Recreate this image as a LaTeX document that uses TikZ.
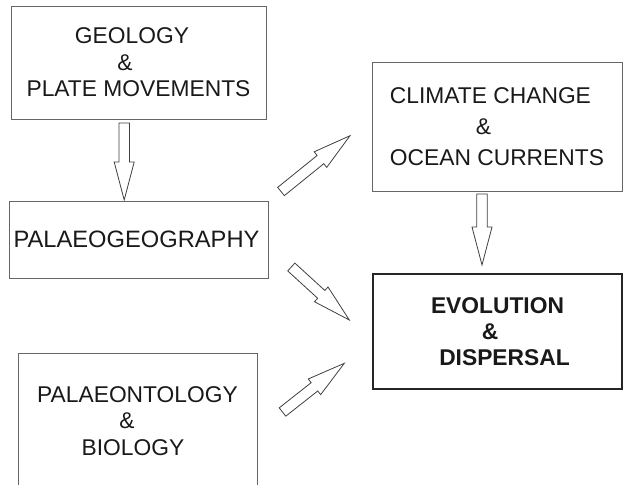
\documentclass[tikz,border=0pt]{standalone}
\usepackage{fontspec}
\setmainfont{Liberation Sans}
\usepackage{tikz}
\usetikzlibrary{calc,positioning}
\tikzstyle{box}      = [rectangle, draw=black!60, line width=0.9pt, inner sep=0pt, outer sep=0pt, align=center, text=black!90, font=\fontsize{22.8}{26.6}\selectfont]
\tikzstyle{mainbox}  = [box, draw=black!85, line width=2.4pt, font=\bfseries\fontsize{22.8}{25.7}\selectfont]
\tikzstyle{fatline}  = [draw=black!75, line width=0.8pt, fill=white, line join=miter]
\newcommand{\fatarrow}[2]{%
  \coordinate (head) at ($(#2)!38pt!(#1)$);
  \draw[fatline] ($(#1)!5.3pt!90:(#2)$) -- ($(head)!5.3pt!90:(#2)$) -- ($(head)!10pt!90:(#2)$) -- (#2)
    -- ($(head)!10pt!-90:(#2)$) -- ($(head)!5.3pt!-90:(#2)$) -- ($(#1)!5.3pt!-90:(#2)$) -- cycle;}

\begin{document}
\begin{tikzpicture}[x=1pt,y=-1pt]
        \clip (0,0) rectangle (623,484);

        \node[box, minimum width=255, minimum height=113] (geo) at (138.5,62.5)
            {\hspace*{-13pt}GEOLOGY\\ \hspace*{-27pt}\&\\ PLATE MOVEMENTS};
        \node[box, minimum width=259, minimum height=77, font=\fontsize{23.7}{26}\selectfont] (pal) at (138.5,239.5)
            {\hspace*{-4pt}PALAEOGEOGRAPHY};
        \node[box, minimum width=239, minimum height=136] (bio) at (137.5,421)
            {PALAEONTOLOGY\\ \hspace*{-21pt}\&\\ \hspace*{-9pt}BIOLOGY};
        \node[box, minimum width=250, minimum height=129, align=left, font=\fontsize{22.8}{30.8}\selectfont] (cli) at (497,126.5)
            {CLIMATE CHANGE\\ \hspace*{86pt}\&\\ OCEAN CURRENTS};
        \node[mainbox, minimum width=249, minimum height=115] (evo) at (497.5,331.5)
            {EVOLUTION\\ \hspace*{-15pt}\&\\ \hspace*{14pt}DISPERSAL};

        \coordinate (geo-out) at (124.2,123);
        \coordinate (pal-in)  at (124.2,200);
        \coordinate (cli-out) at (482,194);
        \coordinate (evo-top) at (482,265);
        \coordinate (pal-up)  at (281,191.5);
        \coordinate (cli-in)  at (350,135.7);
        \coordinate (pal-dn)  at (291.3,267);
        \coordinate (evo-in1) at (349.3,320);
        \coordinate (bio-out) at (282.5,412);
        \coordinate (evo-in2) at (344.3,363.3);

        \fatarrow{geo-out}{pal-in}
        \fatarrow{cli-out}{evo-top}
        \fatarrow{pal-up}{cli-in}
        \fatarrow{pal-dn}{evo-in1}
        \fatarrow{bio-out}{evo-in2}
    \end{tikzpicture}
\end{document}
